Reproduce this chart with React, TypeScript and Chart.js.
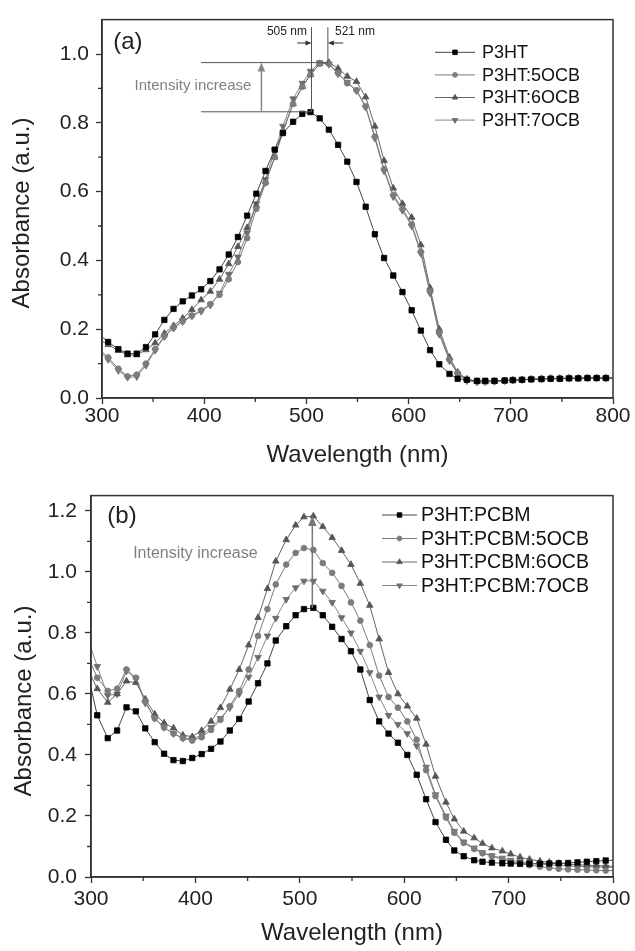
import React, { useEffect, useRef } from 'react';
import { Chart, registerables } from 'chart.js';
Chart.register(...registerables);

const FONT = '"Liberation Sans", Arial, Helvetica, sans-serif';

// ---------- DATA ----------
const wavelengths = [300, 306, 316, 325, 334, 343, 352, 361, 370, 379, 388, 397, 406, 415, 424, 433, 442, 451, 460, 469, 477, 487, 496, 504, 513, 522, 531, 540, 549, 558, 567, 576, 585, 594, 603, 612, 621, 630, 640, 648, 657, 667, 675, 684, 694, 702, 711, 720, 730, 739, 748, 757, 766, 775, 784, 793, 800];

// panel (a)
const absP3HT = [0.178, 0.163, 0.142, 0.129, 0.129, 0.148, 0.185, 0.227, 0.259, 0.281, 0.298, 0.316, 0.340, 0.374, 0.417, 0.468, 0.530, 0.594, 0.660, 0.722, 0.770, 0.803, 0.826, 0.831, 0.813, 0.780, 0.736, 0.687, 0.628, 0.556, 0.476, 0.407, 0.356, 0.308, 0.255, 0.196, 0.139, 0.098, 0.070, 0.056, 0.053, 0.050, 0.050, 0.050, 0.051, 0.052, 0.053, 0.054, 0.055, 0.056, 0.056, 0.057, 0.057, 0.058, 0.058, 0.058, 0.058];
const absP3HT5OCB = [0.135, 0.118, 0.085, 0.063, 0.068, 0.100, 0.142, 0.180, 0.205, 0.224, 0.240, 0.255, 0.273, 0.300, 0.345, 0.395, 0.465, 0.550, 0.625, 0.700, 0.775, 0.855, 0.905, 0.940, 0.972, 0.972, 0.945, 0.915, 0.895, 0.848, 0.760, 0.665, 0.590, 0.550, 0.505, 0.425, 0.310, 0.190, 0.112, 0.072, 0.052, 0.047, 0.047, 0.048, 0.050, 0.052, 0.053, 0.055, 0.056, 0.057, 0.057, 0.058, 0.058, 0.058, 0.058, 0.058, 0.058];
const absP3HT6OCB = [0.165, 0.155, 0.138, 0.125, 0.125, 0.140, 0.160, 0.188, 0.210, 0.232, 0.257, 0.285, 0.310, 0.345, 0.390, 0.440, 0.495, 0.560, 0.630, 0.700, 0.775, 0.855, 0.905, 0.940, 0.972, 0.975, 0.958, 0.935, 0.920, 0.875, 0.790, 0.690, 0.610, 0.565, 0.525, 0.445, 0.320, 0.200, 0.118, 0.075, 0.055, 0.048, 0.047, 0.048, 0.050, 0.052, 0.053, 0.055, 0.056, 0.057, 0.057, 0.058, 0.058, 0.058, 0.058, 0.058, 0.058];
const absP3HT7OCB = [0.130, 0.112, 0.080, 0.060, 0.062, 0.095, 0.138, 0.178, 0.203, 0.222, 0.238, 0.252, 0.270, 0.305, 0.360, 0.410, 0.480, 0.565, 0.635, 0.720, 0.790, 0.870, 0.915, 0.950, 0.975, 0.970, 0.942, 0.918, 0.893, 0.845, 0.755, 0.660, 0.585, 0.545, 0.500, 0.420, 0.305, 0.185, 0.108, 0.070, 0.050, 0.046, 0.047, 0.048, 0.050, 0.052, 0.053, 0.055, 0.056, 0.057, 0.057, 0.058, 0.058, 0.058, 0.058, 0.058, 0.058];

// panel (b)
const absPCBM = [0.620, 0.530, 0.455, 0.480, 0.556, 0.543, 0.487, 0.442, 0.404, 0.383, 0.380, 0.390, 0.403, 0.420, 0.444, 0.480, 0.518, 0.575, 0.635, 0.700, 0.775, 0.822, 0.858, 0.878, 0.882, 0.858, 0.820, 0.780, 0.740, 0.680, 0.580, 0.510, 0.470, 0.440, 0.400, 0.335, 0.255, 0.180, 0.122, 0.087, 0.068, 0.055, 0.050, 0.047, 0.045, 0.044, 0.043, 0.043, 0.043, 0.044, 0.045, 0.046, 0.048, 0.050, 0.052, 0.054, 0.055];
const absPCBM5OCB = [0.700, 0.653, 0.610, 0.617, 0.680, 0.653, 0.575, 0.520, 0.490, 0.470, 0.455, 0.447, 0.458, 0.482, 0.515, 0.560, 0.610, 0.680, 0.790, 0.878, 0.959, 1.024, 1.062, 1.078, 1.072, 1.029, 0.997, 0.954, 0.900, 0.840, 0.760, 0.660, 0.590, 0.555, 0.510, 0.450, 0.350, 0.265, 0.195, 0.145, 0.112, 0.092, 0.078, 0.068, 0.058, 0.050, 0.044, 0.039, 0.034, 0.030, 0.027, 0.025, 0.024, 0.023, 0.022, 0.021, 0.021];
const absPCBM6OCB = [0.660, 0.617, 0.572, 0.600, 0.642, 0.637, 0.583, 0.534, 0.505, 0.488, 0.465, 0.460, 0.480, 0.510, 0.555, 0.615, 0.680, 0.760, 0.850, 0.945, 1.035, 1.105, 1.153, 1.180, 1.183, 1.148, 1.112, 1.070, 1.024, 0.962, 0.890, 0.780, 0.670, 0.600, 0.560, 0.520, 0.435, 0.330, 0.245, 0.190, 0.150, 0.128, 0.110, 0.095, 0.085, 0.075, 0.065, 0.058, 0.052, 0.048, 0.045, 0.042, 0.040, 0.038, 0.037, 0.036, 0.035];
const absPCBM7OCB = [0.750, 0.690, 0.595, 0.600, 0.675, 0.650, 0.570, 0.520, 0.490, 0.470, 0.455, 0.452, 0.465, 0.490, 0.520, 0.555, 0.600, 0.655, 0.720, 0.790, 0.848, 0.910, 0.948, 0.970, 0.970, 0.937, 0.900, 0.850, 0.800, 0.740, 0.670, 0.590, 0.530, 0.500, 0.470, 0.430, 0.360, 0.270, 0.200, 0.150, 0.115, 0.095, 0.080, 0.070, 0.062, 0.055, 0.050, 0.046, 0.043, 0.040, 0.038, 0.036, 0.035, 0.034, 0.033, 0.032, 0.032];

const xMinorTicks = [350, 450, 550, 650, 750];
const yMinorTicksA = [0.1, 0.3, 0.5, 0.7, 0.9];
const yMinorTicksB = [0.1, 0.3, 0.5, 0.7, 0.9, 1.1];

// ---------- STYLE / PANEL CONFIG ----------
type MarkerStyle = 'rect' | 'circle' | 'triangle';
type Series = { label: string; values: number[]; line: string; marker: string; style: MarkerStyle; rotation: number; radius: number };

const seriesA: Series[] = [
  { label: 'P3HT', values: absP3HT, line: '#444', marker: '#000', style: 'rect', rotation: 0, radius: 3.8 },
  { label: 'P3HT:5OCB', values: absP3HT5OCB, line: '#7a7a7a', marker: '#7c7c7c', style: 'circle', rotation: 0, radius: 2.9 },
  { label: 'P3HT:6OCB', values: absP3HT6OCB, line: '#666', marker: '#555', style: 'triangle', rotation: 0, radius: 3.8 },
  { label: 'P3HT:7OCB', values: absP3HT7OCB, line: '#888', marker: '#6c6c6c', style: 'triangle', rotation: 180, radius: 3.8 },
];
const seriesB: Series[] = [
  { label: 'P3HT:PCBM', values: absPCBM, line: '#444', marker: '#000', style: 'rect', rotation: 0, radius: 3.8 },
  { label: 'P3HT:PCBM:5OCB', values: absPCBM5OCB, line: '#7a7a7a', marker: '#7c7c7c', style: 'circle', rotation: 0, radius: 2.9 },
  { label: 'P3HT:PCBM:6OCB', values: absPCBM6OCB, line: '#666', marker: '#555', style: 'triangle', rotation: 0, radius: 3.8 },
  { label: 'P3HT:PCBM:7OCB', values: absPCBM7OCB, line: '#888', marker: '#6c6c6c', style: 'triangle', rotation: 180, radius: 3.8 },
];

type Ann =
  | { kind: 'line'; x1: number; y1: number; x2: number; y2: number; color: string; width: number }
  | { kind: 'arrow'; x1: number; y1: number; x2: number; y2: number; color: string; width: number; head: number }
  | { kind: 'text'; x: number; y: number; text: string; size: number; color: string; align: CanvasTextAlign };

const annA: Ann[] = [
  { kind: 'line', x1: 505, y1: 1.078, x2: 505, y2: 0.832, color: '#555', width: 1 },
  { kind: 'line', x1: 521, y1: 1.078, x2: 521, y2: 0.975, color: '#555', width: 1 },
  { kind: 'line', x1: 397, y1: 0.975, x2: 521, y2: 0.975, color: '#555', width: 1 },
  { kind: 'line', x1: 397, y1: 0.832, x2: 505, y2: 0.832, color: '#555', width: 1 },
  { kind: 'arrow', x1: 491, y1: 1.032, x2: 505, y2: 1.032, color: '#333', width: 1, head: 6 },
  { kind: 'arrow', x1: 536, y1: 1.032, x2: 521, y2: 1.032, color: '#333', width: 1, head: 6 },
  { kind: 'arrow', x1: 456, y1: 0.832, x2: 456, y2: 0.975, color: '#888', width: 1.5, head: 9 },
  { kind: 'text', x: 500.5, y: 1.064, text: '505 nm', size: 12, color: '#222', align: 'right' },
  { kind: 'text', x: 528, y: 1.064, text: '521 nm', size: 12, color: '#222', align: 'left' },
  { kind: 'text', x: 389, y: 0.907, text: 'Intensity increase', size: 15, color: '#808080', align: 'center' },
  { kind: 'text', x: 311, y: 1.033, text: '(a)', size: 24, color: '#222', align: 'left' },
];
const annB: Ann[] = [
  { kind: 'arrow', x1: 512, y1: 0.882, x2: 512, y2: 1.183, color: '#777', width: 1.5, head: 10 },
  { kind: 'text', x: 400, y: 1.059, text: 'Intensity increase', size: 16, color: '#808080', align: 'center' },
  { kind: 'text', x: 315.6, y: 1.182, text: '(b)', size: 24, color: '#222', align: 'left' },
];

type PanelCfg = {
  height: number; padding: any; yWidth: number; xHeight: number; yMax: number;
  xTickPad: number; yTickPad: number; xTitlePad: number;
  yTitleX: number; yTitleY: number;
  series: Series[]; ann: Ann[]; yMinor: number[];
  legend: { x1: number; x2: number; tx: number; y0: number; dy: number; size: number };
};

const panelA: PanelCfg = {
  height: 475, padding: { top: 14, right: 22, left: 0, bottom: 0 }, yWidth: 102, xHeight: 77, yMax: 1.1,
  xTickPad: 0, yTickPad: 7, xTitlePad: 5,
  yTitleX: 22, yTitleY: 213,
  series: seriesA, ann: annA, yMinor: yMinorTicksA,
  legend: { x1: 435, x2: 475, tx: 482, y0: 52.3, dy: 22.6, size: 18 },
};
const panelB: PanelCfg = {
  height: 476, padding: { top: 16, right: 22, left: 0, bottom: 0 }, yWidth: 91, xHeight: 74, yMax: 1.25,
  xTickPad: 4, yTickPad: 8, xTitlePad: 3,
  yTitleX: 24, yTitleY: 226,
  series: seriesB, ann: annB, yMinor: yMinorTicksB,
  legend: { x1: 382, x2: 417, tx: 421, y0: 40, dy: 23.5, size: 19.5 },
};

// ---------- DRAW HELPERS ----------
function drawMarker(ctx: CanvasRenderingContext2D, style: MarkerStyle, x: number, y: number, r: number, rotation: number, color: string) {
  ctx.save();
  ctx.fillStyle = color;
  ctx.strokeStyle = color;
  ctx.lineWidth = 0.8;
  ctx.beginPath();
  if (style === 'circle') {
    ctx.arc(x, y, r, 0, Math.PI * 2);
  } else if (style === 'rect') {
    const s = Math.SQRT1_2 * r;
    ctx.rect(x - s, y - s, 2 * s, 2 * s);
  } else {
    let rad = (rotation * Math.PI) / 180;
    for (let k = 0; k < 3; k++) {
      const px = x + Math.sin(rad) * r;
      const py = y - Math.cos(rad) * r;
      if (k === 0) ctx.moveTo(px, py); else ctx.lineTo(px, py);
      rad += (2 * Math.PI) / 3;
    }
    ctx.closePath();
  }
  ctx.fill();
  ctx.stroke();
  ctx.restore();
}

function drawArrow(ctx: CanvasRenderingContext2D, x1: number, y1: number, x2: number, y2: number, color: string, width: number, head: number) {
  const ang = Math.atan2(y2 - y1, x2 - x1);
  ctx.save();
  ctx.strokeStyle = color;
  ctx.fillStyle = color;
  ctx.lineWidth = width;
  ctx.beginPath();
  ctx.moveTo(x1, y1);
  ctx.lineTo(x2 - Math.cos(ang) * head * 0.8, y2 - Math.sin(ang) * head * 0.8);
  ctx.stroke();
  const hw = head * 0.42;
  ctx.beginPath();
  ctx.moveTo(x2, y2);
  ctx.lineTo(x2 - Math.cos(ang) * head - Math.sin(ang) * hw, y2 - Math.sin(ang) * head + Math.cos(ang) * hw);
  ctx.lineTo(x2 - Math.cos(ang) * head + Math.sin(ang) * hw, y2 - Math.sin(ang) * head - Math.cos(ang) * hw);
  ctx.closePath();
  ctx.fill();
  ctx.restore();
}

function decorPlugin(cfg: PanelCfg) {
  return {
    id: 'decor',
    afterDraw(chart: any) {
      const { ctx, chartArea: ca } = chart;
      const xs = chart.scales.x;
      const ys = chart.scales.y;
      ctx.save();
      // frame
      ctx.strokeStyle = '#333';
      ctx.lineWidth = 1.5;
      ctx.strokeRect(ca.left, ca.top, ca.right - ca.left, ca.bottom - ca.top);
      // minor ticks
      ctx.lineWidth = 1.3;
      ctx.beginPath();
      xMinorTicks.forEach((v) => {
        const px = xs.getPixelForValue(v);
        ctx.moveTo(px, ca.bottom);
        ctx.lineTo(px, ca.bottom + 4);
      });
      cfg.yMinor.forEach((v) => {
        const py = ys.getPixelForValue(v);
        ctx.moveTo(ca.left - 4, py);
        ctx.lineTo(ca.left, py);
      });
      ctx.stroke();

      // y-axis title
      ctx.save();
      ctx.translate(cfg.yTitleX, cfg.yTitleY);
      ctx.rotate(-Math.PI / 2);
      ctx.fillStyle = '#222';
      ctx.font = `24px ${FONT}`;
      ctx.textAlign = 'center';
      ctx.textBaseline = 'middle';
      ctx.fillText('Absorbance (a.u.)', 0, 0);
      ctx.restore();

      // annotations
      cfg.ann.forEach((a) => {
        if (a.kind === 'line') {
          ctx.save();
          ctx.strokeStyle = a.color;
          ctx.lineWidth = a.width;
          ctx.beginPath();
          ctx.moveTo(xs.getPixelForValue(a.x1), ys.getPixelForValue(a.y1));
          ctx.lineTo(xs.getPixelForValue(a.x2), ys.getPixelForValue(a.y2));
          ctx.stroke();
          ctx.restore();
        } else if (a.kind === 'arrow') {
          drawArrow(ctx, xs.getPixelForValue(a.x1), ys.getPixelForValue(a.y1), xs.getPixelForValue(a.x2), ys.getPixelForValue(a.y2), a.color, a.width, a.head);
        } else {
          ctx.save();
          ctx.fillStyle = a.color;
          ctx.font = `${a.size}px ${FONT}`;
          ctx.textAlign = a.align;
          ctx.textBaseline = 'middle';
          ctx.fillText(a.text, xs.getPixelForValue(a.x), ys.getPixelForValue(a.y));
          ctx.restore();
        }
      });

      // legend
      const lg = cfg.legend;
      cfg.series.forEach((s, i) => {
        const y = lg.y0 + i * lg.dy;
        ctx.save();
        ctx.strokeStyle = s.line;
        ctx.lineWidth = 1;
        ctx.beginPath();
        ctx.moveTo(lg.x1, y);
        ctx.lineTo(lg.x2, y);
        ctx.stroke();
        ctx.restore();
        drawMarker(ctx, s.style, (lg.x1 + lg.x2) / 2, y, s.radius * 0.85, s.rotation, s.marker);
        ctx.save();
        ctx.fillStyle = '#111';
        ctx.font = `${lg.size}px ${FONT}`;
        ctx.textAlign = 'left';
        ctx.textBaseline = 'middle';
        ctx.fillText(s.label, lg.tx, y + 1);
        ctx.restore();
      });
      ctx.restore();
    },
  };
}

function Panel({ cfg }: { cfg: PanelCfg }) {
  const ref = useRef<HTMLCanvasElement>(null);
  useEffect(() => {
    const last = wavelengths.length - 1;
    const datasets = cfg.series.map((s) => ({
      label: s.label,
      data: wavelengths.map((w, i) => ({ x: w, y: s.values[i] })),
      borderColor: s.line,
      borderWidth: 1,
      backgroundColor: s.marker,
      pointBackgroundColor: s.marker,
      pointBorderColor: s.marker,
      pointBorderWidth: 0.8,
      pointStyle: s.style,
      pointRotation: s.rotation,
      pointRadius: (c: any) => (c.dataIndex === 0 || c.dataIndex === last ? 0 : s.radius),
      pointHoverRadius: 0,
      tension: 0,
      fill: false,
    }));
    const gridOpts = { drawOnChartArea: false, drawTicks: true, tickLength: 6, tickColor: '#333', tickWidth: 1.3 };
    const borderOpts = { display: true, color: '#333', width: 1.5 };
    const chart = new Chart(ref.current as HTMLCanvasElement, {
      type: 'line',
      data: { datasets: datasets as any },
      plugins: [decorPlugin(cfg) as any],
      options: {
        animation: false,
        responsive: false,
        maintainAspectRatio: false,
        devicePixelRatio: 1,
        events: [],
        layout: { padding: cfg.padding },
        plugins: { legend: { display: false }, tooltip: { enabled: false } },
        scales: {
          x: {
            type: 'linear',
            min: 300,
            max: 800,
            ticks: {
              stepSize: 100,
              padding: cfg.xTickPad,
              font: { size: 21, family: FONT },
              color: '#222',
              maxRotation: 0,
              autoSkip: false,
              callback: (v: any) => String(v),
            },
            grid: gridOpts,
            border: borderOpts,
            title: {
              display: true,
              text: 'Wavelength (nm)',
              font: { size: 24, family: FONT },
              color: '#222',
              padding: { top: 0, bottom: cfg.xTitlePad },
            },
            afterFit: (sc: any) => { sc.height = cfg.xHeight; },
          },
          y: {
            type: 'linear',
            min: 0,
            max: cfg.yMax,
            ticks: {
              stepSize: 0.2,
              includeBounds: false,
              padding: cfg.yTickPad,
              font: { size: 21, family: FONT },
              color: '#222',
              callback: (v: any) => Number(v).toFixed(1),
            },
            grid: gridOpts,
            border: borderOpts,
            title: { display: false },
            afterFit: (sc: any) => { sc.width = cfg.yWidth; },
          },
        },
      } as any,
    });
    return () => chart.destroy();
  }, [cfg]);
  return <canvas ref={ref} width={635} height={cfg.height} style={{ display: 'block', width: 635, height: cfg.height }} />;
}

export default function App() {
  useEffect(() => {
    document.body.style.margin = '0';
  }, []);
  return (
    <div style={{ position: 'absolute', left: 0, top: 0, width: 635, height: 951, background: '#fff' }}>
      <Panel cfg={panelA} />
      <Panel cfg={panelB} />
    </div>
  );
}
